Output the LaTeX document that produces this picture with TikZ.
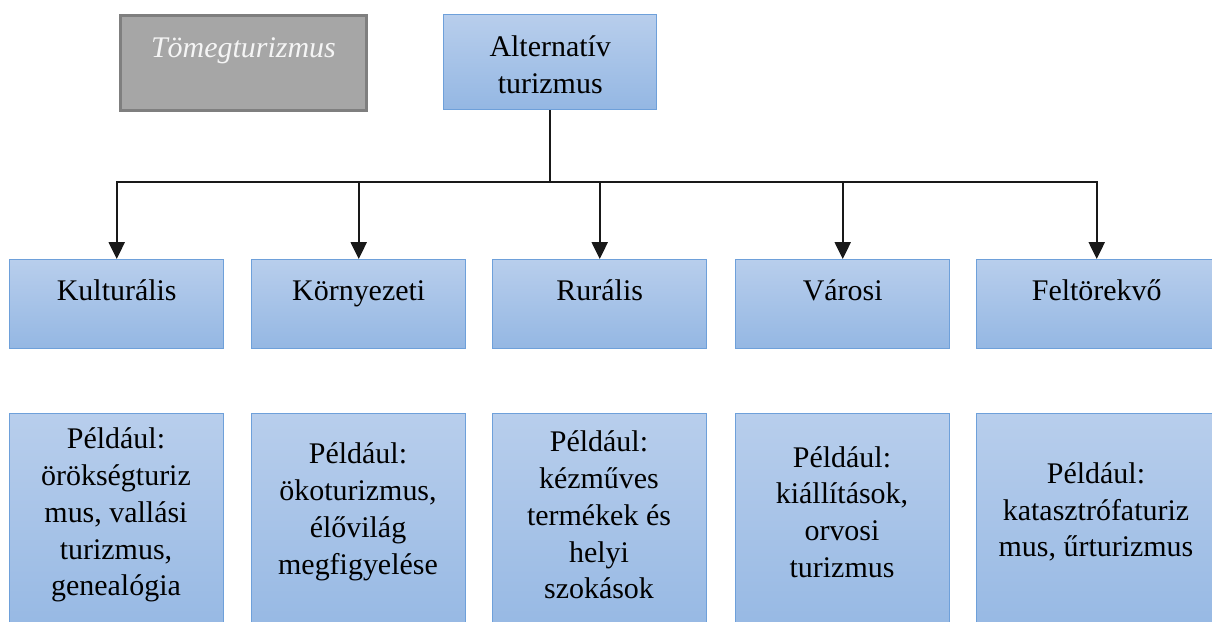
\documentclass[tikz,border=0pt]{standalone}
\usepackage{fontspec}
\setmainfont{Liberation Serif}
\usepackage{tikz}
\usetikzlibrary{arrows.meta}
\usetikzlibrary{positioning}

\definecolor{boxtop}{RGB}{184,206,236}
\definecolor{boxbot}{RGB}{148,183,227}
\definecolor{boxline}{RGB}{110,160,218}
\definecolor{grayfill}{RGB}{166,166,166}
\definecolor{grayline}{RGB}{127,127,127}
\definecolor{graytext}{RGB}{245,245,245}

\begin{document}
\begin{tikzpicture}[x=0.025cm, y=-0.025cm,
  txt/.style={font=\fontsize{21.3}{26.2}\selectfont},
  bluebox/.style={draw=boxline, line width=1pt, top color=boxtop, bottom color=boxbot,
    inner sep=0pt, anchor=north west, align=center, txt},
  midbox/.style={bluebox, minimum width=5.35cm, text height=1.025cm, text depth=1.2cm},
  exbox/.style={bluebox, minimum width=5.35cm, minimum height=5.8cm},
  extext/.style={txt, align=center, inner sep=0pt},
  arr/.style={line width=1.3pt, black!90, -{Triangle[width=0.4cm, length=0.42cm]}}
]

\useasboundingbox (0,0) rectangle (1212,621);
\clip (0,0) rectangle (1212,621);

% top row
\node[draw=grayline, line width=2pt, fill=grayfill, inner sep=0pt, anchor=north west,
  minimum width=6.15cm, text height=1.05cm, text depth=1.325cm, txt, text=graytext]
  (tomeg) at (119,14) {\itshape Tömegturizmus};
\node[bluebox, minimum width=5.325cm, text height=1.975cm, text depth=0.4cm]
  (alt) at (443,14) {Alternatív\\turizmus};

% middle row
\node[midbox] (kult) at (9,259) {Kulturális};
\node[midbox] (korny) at (251,259) {Környezeti};
\node[midbox] (rur) at (492,259) {Rurális};
\node[midbox] (varos) at (735,259) {Városi};
\node[midbox, minimum width=6cm] (felt) at (976,259) {Feltörekvő};

\coordinate (bus) at (0,182);
\foreach \n in {kult,korny,rur,varos,felt}
  \path[draw, arr] (alt.south) -- (alt.south |- bus) -| (\n.north);

% bottom row
\node[exbox] (kultEx) at (9,413) {};
\node[exbox] (kornyEx) at (251,413) {};
\node[exbox] (rurEx) at (492,413) {};
\node[exbox] (varosEx) at (735,413) {};
\node[exbox, minimum width=6cm] (feltEx) at (976,413) {};

\node[extext] (kultTxt) at (116,515) {Például:\\örökségturiz\\mus, vallási\\turizmus,\\genealógia};
\node[extext] (kornyTxt) at (358,512) {Például:\\ökoturizmus,\\élővilág\\megfigyelése};
\node[extext] (rurTxt) at (599,515) {Például:\\kézműves\\termékek és\\helyi\\szokások};
\node[extext] (varosTxt) at (842,512) {Például:\\kiállítások,\\orvosi\\turizmus};
\node[extext] (feltTxt) at (1096,512) {Például:\\katasztrófaturiz\\mus, űrturizmus};

\end{tikzpicture}
\end{document}
